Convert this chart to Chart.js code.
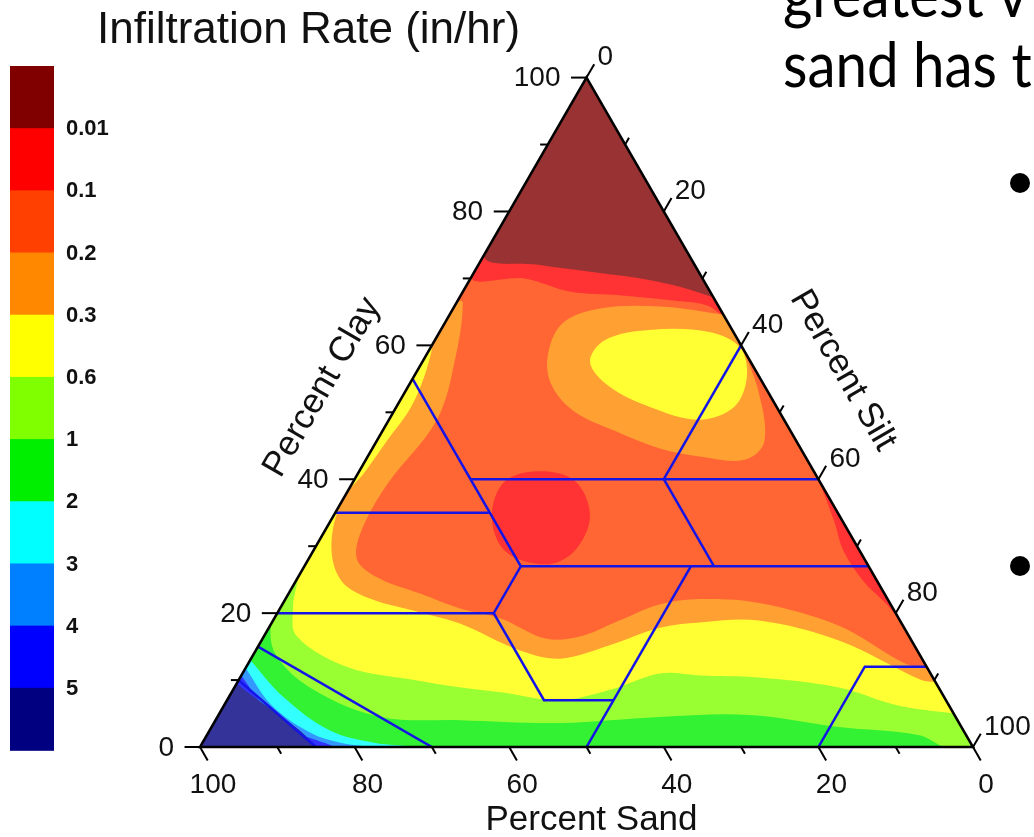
<!DOCTYPE html>
<html>
<head>
<meta charset="utf-8">
<style>
  html, body { margin: 0; padding: 0; background: #fff; }
  #wrap { position: relative; width: 1034px; height: 837px; }
</style>
<script src="https://cdn.jsdelivr.net/npm/chart.js@4.4.1/dist/chart.umd.min.js"></script>
</head>
<body>
<div id="wrap"><canvas id="ternary" width="1034" height="837"></canvas></div>
<script>
/**
 * 1. Data
 * Colour scale of the legend (top to bottom) and the breaks printed between bands.
 */
const rateBreaks = ['0.01', '0.1', '0.2', '0.3', '0.6', '1', '2', '3', '4', '5'];
const bandColors = ['#800000', '#ff0000', '#ff4000', '#ff8800', '#ffff00', '#80ff00',
                    '#00ee00', '#00ffff', '#0080ff', '#0000ff', '#000080'];

// Axis ticks (percent)
const sandTicks = [100, 80, 60, 40, 20, 0];
const clayTicks = [0, 20, 40, 60, 80, 100];
const siltTicks = [0, 20, 40, 60, 80, 100];

// Contour regions as [sand %, clay %] pairs
const wholeTriangle = [[100, 0], [0, 0], [0, 100]];
const orangeZone = [[0, 11.7], [2.6, 12.5], [8.3, 18.1], [16.9, 21.5], [24.3, 22.1], [29.9, 21.3],
  [36.3, 18.9], [42.6, 16.5], [47.2, 16.2], [51.5, 19.2], [56, 20.7], [60, 22.9], [64.1, 25.1],
  [65.7, 27.8], [63.4, 31.8], [56.2, 39.2], [44.8, 49], [37.3, 59], [32.8, 66.4], [33.6, 66.4],
  [100, 0], [0, 0]];
const yellowZone = [[0, 9.7], [1.7, 10], [9.4, 15.9], [18.3, 18.9], [26.1, 18.6], [31.6, 17.8],
  [39.4, 15.2], [46.8, 13.2], [51.4, 14.4], [57.1, 18.4], [61.4, 20.1], [66.8, 22.1], [69.3, 24.8],
  [68, 30], [63.3, 36.7], [58, 41.2], [53.1, 45.6], [47.3, 50.8], [42.8, 56], [40.3, 59.7],
  [100, 0], [0, 0]];
const yellowGreenZone = [[0, 5], [6.6, 6.2], [12.9, 8.9], [22.5, 10.4], [30, 10.7], [35, 11],
  [42.8, 8.5], [49.9, 7], [57, 8.2], [61.8, 8.9], [67.3, 10], [74.9, 11.9], [79.2, 16.6],
  [77.4, 21.1], [75, 25], [100, 0], [0, 0]];
const greenZone = [[3.9, 0], [6.2, 1.8], [15.9, 3], [26.6, 4.8], [38.3, 4.5], [51.6, 3.6],
  [64.3, 4], [74.4, 4.5], [81, 8.5], [83.3, 13.7], [81.3, 18.9], [77.4, 22.6], [100, 0]];
const cyanZone = [[87, 13], [85.5, 7.5], [82, 2.5], [77, 0.6], [71.5, 0], [100, 0]];
const lightBlueZone = [[88.2, 11.8], [87.6, 6.2], [84.6, 2.1], [81.4, 0.6], [78.2, 0], [100, 0]];
const blueZone = [[89.3, 10.7], [88.75, 6.5], [86.9, 2.5], [83, 0], [100, 0]];
const navyZone = [[90.5, 9.5], [85.6, 0], [100, 0]];
const redBand = [[0, 64.2], [1.5, 66], [5.5, 66.7], [12, 67.5], [18, 68], [23, 70], [29.6, 70.4], [0, 100]];
const darkRedCap = [[0, 67.2], [4.3, 69], [8, 70], [14, 71], [20, 72], [26.4, 73.6], [0, 100]];
const redSliver = [[0, 40], [1.1, 33.7], [2.1, 29.3], [1.8, 24.8], [0.7, 21.8], [0, 19.5]];
const orangeRing = [[0, 64.6], [7.6, 65.8], [15.5, 65.5], [21.6, 63.2], [26, 58.1], [27.5, 53.8],
  [26.5, 50.1], [22.5, 47.1], [18.2, 44.6], [13.7, 43.4], [8.1, 42.9], [4.2, 45.6], [1.2, 53.1], [0, 59.7]];
// closed blobs inside the triangle
const redBlob = [[35.3, 41.2], [31.6, 39.7], [32.3, 34.5], [36.9, 29.3], [41.6, 27.3],
  [45.9, 29.3], [45, 34.5], [40.7, 39.7]];
const yellowBlob = [[20.8, 57.5], [17.2, 60.8], [10.7, 62.3], [3.1, 62], [0.3, 59.7], [1.6, 55.3],
  [5.5, 50.8], [11, 48.9], [16.4, 50.8], [20.1, 53.8]];

// USDA soil texture class boundaries, [sand %, clay %]
const textureLines = [
  [[45, 55], [45, 27], [52, 20], [52, 7], [43, 7]],
  [[45, 40], [0, 40]],
  [[20, 40], [0, 60]],
  [[65, 35], [45, 35]],
  [[20, 40], [20, 27]],
  [[45, 27], [0, 27]],
  [[80, 20], [52, 20]],
  [[50, 0], [23, 27]],
  [[85, 15], [70, 0]],
  [[90, 10], [85, 0]],
  [[20, 0], [8, 12], [0, 12]]
];

// paint order, back to front: [region, colour band]
const contourLayers = [
  [wholeTriangle, 2], [orangeZone, 3], [yellowZone, 4], [yellowGreenZone, 5], [greenZone, 6],
  [cyanZone, 7], [lightBlueZone, 8], [blueZone, 9], [navyZone, 10],
  [redBand, 1], [darkRedCap, 0], [redSliver, 1], [redBlob, 1], [orangeRing, 3], [yellowBlob, 4]
];
const loops = [redBlob, yellowBlob];

/**
 * 2. Helpers
 */
const SQ = Math.sqrt(3) / 2;
const toXY = ([sand, clay]) => ({ x: 100 - sand - clay / 2, y: clay * SQ });

// wrap a closed blob so the smoothed outline has no straight seam
function closeLoop(pts) {
    const n = pts.length;
    return [pts[n - 2], pts[n - 1], ...pts, pts[0], pts[1]];
}

// plot colours are the legend colours at 80% over white
function fade(hex, a) {
    const n = parseInt(hex.slice(1), 16);
    const m = v => Math.round(v * a + 255 * (1 - a));
    return `rgb(${m(n >> 16)}, ${m((n >> 8) & 255)}, ${m(n & 255)})`;
}
const FONT = '"Liberation Sans", Arial, sans-serif';

/**
 * 3. Datasets
 */
const layerSets = contourLayers.map(([pts, band]) => ({
    data: (loops.includes(pts) ? closeLoop(pts) : pts).map(toXY),
    backgroundColor: fade(bandColors[band], 0.8),
    borderWidth: 0,
    fill: 'shape',
    tension: pts === wholeTriangle ? 0 : 0.35,
    pointRadius: 0
}));
const lineSets = textureLines.map(pts => ({
    data: pts.map(toXY),
    borderColor: '#1414e6',
    borderWidth: 2.5,
    fill: false,
    tension: 0,
    pointRadius: 0
}));
// Chart.js paints the first dataset on top, so reverse the paint order
const datasets = [...layerSets, ...lineSets].reverse();

/**
 * 4. Plugins: clip contours to the triangle, then draw the frame, ticks and legend
 */
const clipToTriangle = {
    id: 'clipToTriangle',
    beforeDatasetsDraw(chart) {
        const { ctx, scales: { x, y } } = chart;
        ctx.save();
        ctx.beginPath();
        wholeTriangle.forEach((p, i) => {
            const q = toXY(p);
            const px = x.getPixelForValue(q.x), py = y.getPixelForValue(q.y);
            i ? ctx.lineTo(px, py) : ctx.moveTo(px, py);
        });
        ctx.closePath();
        ctx.clip();
    },
    afterDatasetsDraw(chart) {
        chart.ctx.restore();
    }
};

const ternaryFrame = {
    id: 'ternaryFrame',
    afterDraw(chart) {
        const { ctx, scales: { x, y } } = chart;
        const pix = (cx, cy) => [x.getPixelForValue(cx), y.getPixelForValue(cy)];
        const seg = (x0, y0, x1, y1) => {
            const a = pix(x0, y0), b = pix(x1, y1);
            ctx.beginPath(); ctx.moveTo(a[0], a[1]); ctx.lineTo(b[0], b[1]); ctx.stroke();
        };
        ctx.save();

        // Triangle outline
        ctx.strokeStyle = '#000';
        ctx.lineWidth = 2.5;
        ctx.beginPath();
        wholeTriangle.forEach((p, i) => {
            const q = toXY(p);
            const [px, py] = pix(q.x, q.y);
            i ? ctx.lineTo(px, py) : ctx.moveTo(px, py);
        });
        ctx.closePath();
        ctx.stroke();

        // Ticks every 10, long ones every 20
        ctx.lineWidth = 2;
        for (let v = 0; v <= 100; v += 10) {
            const len = v % 20 === 0 ? 2 : 1;
            let b = toXY([v, 0]);
            seg(b.x, b.y, b.x + 0.5 * len, b.y - SQ * len);
            b = toXY([100 - v, v]);
            seg(b.x, b.y, b.x - len, b.y);
            b = toXY([0, 100 - v]);
            seg(b.x, b.y, b.x + 0.5 * len, b.y + SQ * len);
        }

        // Tick labels
        ctx.fillStyle = '#111';
        ctx.font = '28px ' + FONT;
        ctx.textBaseline = 'middle';
        ctx.textAlign = 'center';
        sandTicks.forEach(s => {
            const q = toXY([s, 0]);
            const [px, py] = pix(q.x, q.y);
            ctx.fillText(String(s), px + 13, py + 38);
        });
        ctx.textAlign = 'right';
        clayTicks.forEach(c => {
            const q = toXY([100 - c, c]);
            const [px, py] = pix(q.x, q.y);
            ctx.fillText(String(c), px - 26, py + 1);
        });
        ctx.textAlign = 'left';
        siltTicks.forEach(si => {
            const q = toXY([0, 100 - si]);
            const [px, py] = pix(q.x, q.y);
            ctx.fillText(String(si), px + 11, py - 20);
        });

        // Axis titles
        ctx.font = '35px ' + FONT;
        ctx.textAlign = 'center';
        let [ax, ay] = pix(50, 0);
        ctx.fillText('Percent Sand', ax + 5, ay + 73);
        let q = toXY([50, 50]);
        [ax, ay] = pix(q.x, q.y);
        ctx.save();
        ctx.translate(ax - 71, ay - 25);
        ctx.rotate(-Math.PI / 3);
        ctx.fillText('Percent Clay', 0, 0);
        ctx.restore();
        q = toXY([0, 50]);
        [ax, ay] = pix(q.x, q.y);
        ctx.save();
        ctx.translate(ax + 63, ay - 42);
        ctx.rotate(Math.PI / 3);
        ctx.fillText('Percent Silt', 0, 0);
        ctx.restore();

        // Legend title and colour bar
        ctx.textAlign = 'left';
        ctx.textBaseline = 'alphabetic';
        ctx.font = '44px ' + FONT;
        ctx.fillText('Infiltration Rate (in/hr)', 97, 43);
        const barTop = 66, barH = 684 / bandColors.length;
        bandColors.forEach((c, i) => {
            ctx.fillStyle = c;
            ctx.fillRect(10, barTop + i * barH, 44, Math.ceil(barH));
        });
        ctx.fillStyle = '#111';
        ctx.font = 'bold 22px ' + FONT;
        ctx.textBaseline = 'middle';
        rateBreaks.forEach((t, i) => ctx.fillText(t, 66, barTop + (i + 1) * barH + 1));

        // Slide text around the figure
        ctx.fillStyle = '#000';
        ctx.font = '62px Lato, "Open Sans", sans-serif';
        ctx.textBaseline = 'alphabetic';
        ctx.save();
        ctx.translate(783, 0);
        ctx.scale(0.91, 1);
        ctx.fillText('greatest v', 0, 17);
        ctx.fillText('sand has t', 0, 87);
        ctx.restore();
        [183, 566].forEach(by => {
            ctx.beginPath(); ctx.arc(1020, by, 10, 0, Math.PI * 2); ctx.fill();
        });
        ctx.restore();
    }
};

/**
 * 5. Chart
 */
new Chart(document.getElementById('ternary'), {
    type: 'line',
    data: { datasets },
    options: {
        responsive: false,
        animation: false,
        events: [],
        layout: { padding: 0 },
        plugins: { legend: { display: false }, tooltip: { enabled: false } },
        scales: {
            x: { type: 'linear', min: -25.87, max: 107.89, display: false },
            y: { type: 'linear', min: -11.64, max: 96.64, display: false }
        }
    },
    plugins: [clipToTriangle, ternaryFrame]
});
</script>
</body>
</html>
